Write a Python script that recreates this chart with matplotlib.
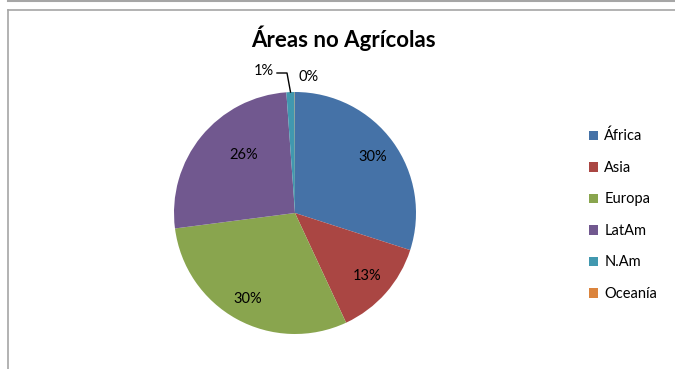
import numpy as np
import matplotlib
matplotlib.use("Agg")
import matplotlib.pyplot as plt
from matplotlib.lines import Line2D
from matplotlib.patches import Patch

plt.rcParams['font.family'] = ['Lato', 'DejaVu Sans']

title = "Áreas no Agrícolas"
categories = ["África", "Asia", "Europa", "LatAm", "N.Am", "Oceanía"]
values = [29.96, 13.1, 29.9, 25.9, 1.1, 0.04]
colors = ["#4572A7", "#AA4643", "#89A54E", "#71588F", "#4198AF", "#DB843D"]

W, H = 675, 369
fig = plt.figure(figsize=(W / 100, H / 100), dpi=100)

# pie axes: centre (295,213) px, radius 121 px
cx, cy, R = 295, 213, 121
ax = fig.add_axes([(cx - R) / W, (H - cy - R) / H, 2 * R / W, 2 * R / H])
wedges, _ = ax.pie(values, colors=colors, startangle=90, counterclock=False,
                   radius=1, wedgeprops=dict(linewidth=0))
ax.set_xlim(-1, 1)
ax.set_ylim(-1, 1)
ax.set_aspect('equal')
ax.axis('off')

total = sum(values)
label_r = [0.79, 0.79, 0.81, 0.64, None, None]
angle_shift = [0, 0, 0, -9, 0, 0]
for i, w in enumerate(wedges):
    pct = f"{round(values[i] / total * 100):.0f}%"
    if label_r[i] is not None:
        th = np.deg2rad((w.theta1 + w.theta2) / 2 + angle_shift[i])
        ax.text(label_r[i] * np.cos(th), label_r[i] * np.sin(th), pct,
                ha='center', va='center', fontsize=10.5, color='#000000')

# small slices: N.Am label with leader, Oceanía label
def px2d(px, py):
    return (px - cx) / R, (cy - py) / R

th_n = np.deg2rad((wedges[4].theta1 + wedges[4].theta2) / 2)
x0, y0 = np.cos(th_n), np.sin(th_n)
xa, ya = px2d(287, 73)
xb, yb = px2d(277, 73)
ax.plot([x0, xa, xb], [y0, ya, yb], color='#000000', lw=1, clip_on=False)
lx, ly = px2d(264, 71)
ax.text(lx, ly, f"{round(values[4] / total * 100):.0f}%", ha='center', va='center', fontsize=10.5)
ox, oy = px2d(309, 77)
ax.text(ox, oy, f"{round(values[5] / total * 100):.0f}%", ha='center', va='center', fontsize=10.5)

# title
fig.text(343 / W, 1 - 38 / H, title, ha='center', va='center', fontsize=16, fontweight='bold')

# legend
handles = [Patch(facecolor=c, edgecolor='none') for c in colors]
fig.legend(handles, categories, loc='upper left', bbox_to_anchor=(589 / W, 1 - 129 / H),
           frameon=False, fontsize=10.5, handlelength=0.65, handleheight=0.65,
           handletextpad=0.4, labelspacing=1.2, borderpad=0, borderaxespad=0)

# chart border lines
fig.add_artist(Line2D([8 / W, 1], [1 - 0.8 / H, 1 - 0.8 / H], color='#A6A6A6', lw=1.5))
fig.add_artist(Line2D([7.5 / W, 1], [1 - 9.5 / H, 1 - 9.5 / H], color='#A6A6A6', lw=1.2))
fig.add_artist(Line2D([7.5 / W, 7.5 / W], [1 - 9.5 / H, 0], color='#A6A6A6', lw=1.2))

fig.savefig("out.png", dpi=100, facecolor='white')
